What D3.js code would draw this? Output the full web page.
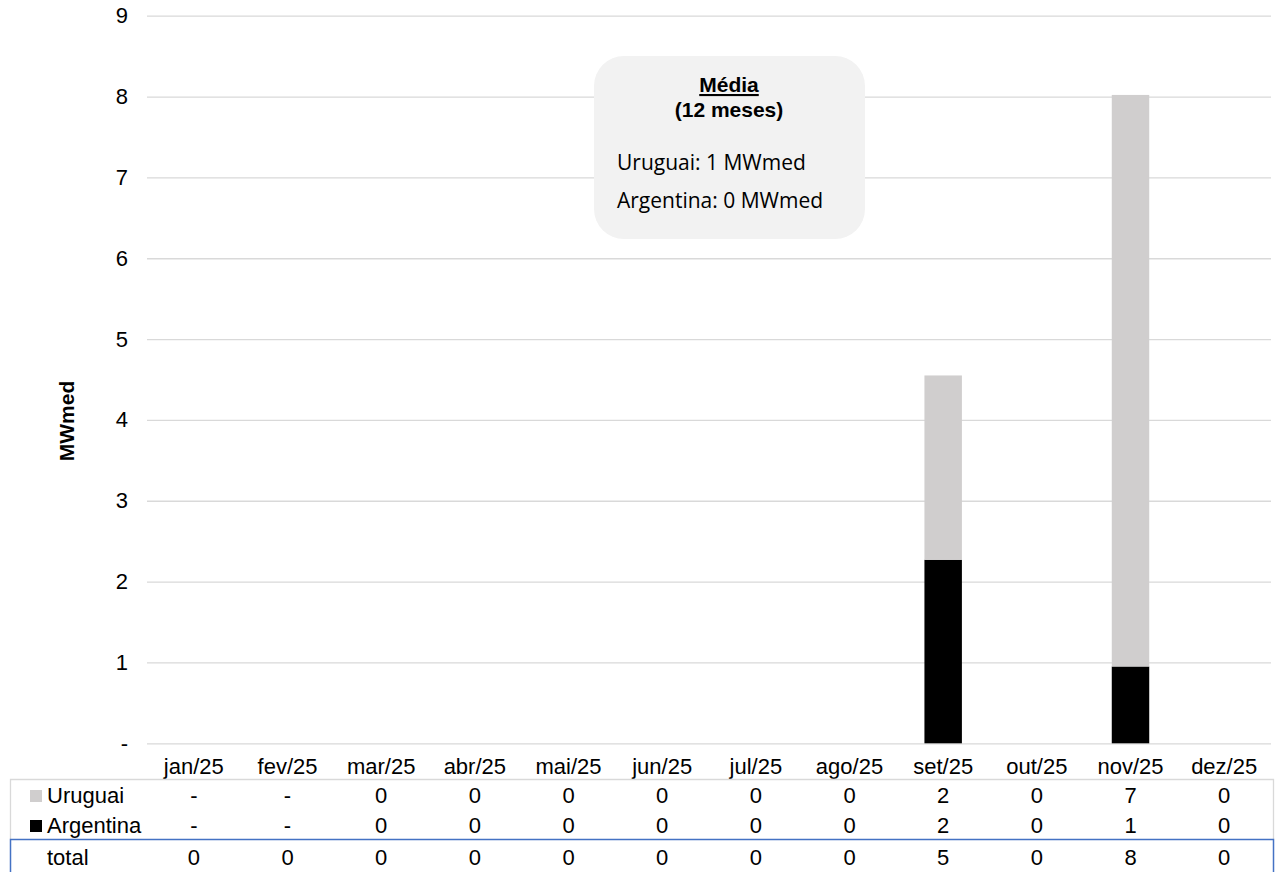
<!DOCTYPE html>
<html>
<head>
<meta charset="utf-8">
<script src="https://cdn.jsdelivr.net/npm/d3@7/dist/d3.min.js"></script>
<style>
  html, body { margin: 0; padding: 0; background: #ffffff; }
  svg { display: block; }
  text { font-family: "Liberation Sans", Arial, sans-serif; fill: #000; }
</style>
</head>
<body>
<svg id="chart" width="1285" height="872"></svg>
<script>
// Monthly interchange (MWmed) by country
const months = ["jan/25","fev/25","mar/25","abr/25","mai/25","jun/25","jul/25","ago/25","set/25","out/25","nov/25","dez/25"];
const uruguai   = [null, null, 0, 0, 0, 0, 0, 0, 2.28, 0, 7.07, 0];
const argentina = [null, null, 0, 0, 0, 0, 0, 0, 2.27, 0, 0.95, 0];
const yTicks = [0, 1, 2, 3, 4, 5, 6, 7, 8, 9];
const seriesNames = ["Uruguai", "Argentina"];
const seriesColors = ["#d0cece", "#000000"];

const svg = d3.select("#chart");

const x = d3.scaleBand().domain(months).range([147, 1271]).padding(0);
const y = d3.scaleLinear().domain([0, 9]).range([743.3, 15.7]);
const barW = x.bandwidth() * 0.4;

// gridlines + y tick labels
const gy = svg.append("g")
  .attr("transform", "translate(147,0)")
  .call(d3.axisLeft(y).tickValues(yTicks).tickSize(-(1271 - 147)).tickPadding(19)
    .tickFormat(d => d === 0 ? "-" : d3.format("d")(d)));
gy.select(".domain").remove();
gy.selectAll(".tick line").attr("stroke", "#d9d9d9").attr("stroke-width", 1.3);
gy.selectAll(".tick text").style("font-size", "22px").attr("fill", "#000")
  .style("font-family", "'Liberation Sans', Arial, sans-serif");

// y axis title
svg.append("text")
  .attr("transform", "translate(74,421) rotate(-90)")
  .attr("text-anchor", "middle")
  .style("font-size", "21px").style("font-weight", "bold")
  .text("MWmed");

// stacked bars (Argentina at the bottom, Uruguai on top)
const rows = months.map((m, i) => ({ m, Argentina: argentina[i] || 0, Uruguai: uruguai[i] || 0 }));
const stack = d3.stack().keys(["Argentina", "Uruguai"])(rows);
const colorOf = { Uruguai: seriesColors[0], Argentina: seriesColors[1] };
svg.append("g").selectAll("g").data(stack).join("g")
  .attr("fill", d => colorOf[d.key])
  .selectAll("rect").data(d => d).join("rect")
  .attr("x", d => x(d.data.m) + (x.bandwidth() - barW) / 2)
  .attr("width", barW)
  .attr("y", d => y(d[1]))
  .attr("height", d => y(d[0]) - y(d[1]));

// category labels
svg.append("g").selectAll("text").data(months).join("text")
  .attr("x", d => x(d) + x.bandwidth() / 2)
  .attr("y", 774)
  .attr("text-anchor", "middle")
  .style("font-size", "22px")
  .text(d => d);

// data table
const fmt = v => v === null ? "-" : d3.format(".0f")(v);
const totals = months.map((m, i) => (uruguai[i] || 0) + (argentina[i] || 0));
const tableRows = [
  { name: seriesNames[0], vals: uruguai.map(fmt), color: seriesColors[0], base: 803 },
  { name: seriesNames[1], vals: argentina.map(fmt), color: seriesColors[1], base: 833 },
  { name: "total", vals: totals.map(v => d3.format(".0f")(v)), color: null, base: 865 }
];

// table borders
svg.append("path")
  .attr("d", "M10.5,839 V779.5 H1273.5 V839")
  .attr("fill", "none").attr("stroke", "#d9d9d9").attr("stroke-width", 1.3);
svg.append("rect")
  .attr("x", 10.5).attr("y", 839.5).attr("width", 1263).attr("height", 40)
  .attr("fill", "none").attr("stroke", "#4472c4").attr("stroke-width", 1.5);

const tr = svg.append("g").selectAll("g").data(tableRows).join("g");
tr.filter(d => d.color).append("rect")
  .attr("x", 30).attr("y", d => d.base - 13).attr("width", 12).attr("height", 12)
  .attr("fill", d => d.color);
tr.append("text")
  .attr("x", 47).attr("y", d => d.base)
  .style("font-size", "22px")
  .text(d => d.name);
tr.selectAll("text.v").data(d => d.vals.map((v, i) => ({ v, m: months[i], base: d.base }))).join("text")
  .attr("class", "v")
  .attr("x", d => x(d.m) + x.bandwidth() / 2)
  .attr("y", d => d.base)
  .attr("text-anchor", "middle")
  .style("font-size", "22px")
  .text(d => d.v);

// 12-month average callout
const avgU = d3.sum(uruguai) / months.length;
const avgA = d3.sum(argentina) / months.length;
const box = svg.append("g");
box.append("rect")
  .attr("x", 594).attr("y", 56).attr("width", 271).attr("height", 183)
  .attr("rx", 30).attr("ry", 30)
  .attr("fill", "#f2f2f2");
box.append("text")
  .attr("x", 729).attr("y", 92).attr("text-anchor", "middle")
  .style("font-size", "21px").style("font-weight", "bold")
  .style("text-decoration", "underline")
  .text("Média");
box.append("text")
  .attr("x", 729).attr("y", 117).attr("text-anchor", "middle")
  .style("font-size", "21px").style("font-weight", "bold")
  .text("(12 meses)");
box.append("text")
  .attr("x", 617).attr("y", 170)
  .style("font-family", "'Open Sans', sans-serif").style("font-size", "21px")
  .text(`Uruguai: ${d3.format(".0f")(avgU)} MWmed`);
box.append("text")
  .attr("x", 617).attr("y", 208)
  .style("font-family", "'Open Sans', sans-serif").style("font-size", "21px")
  .text(`Argentina: ${d3.format(".0f")(avgA)} MWmed`);
</script>
</body>
</html>
